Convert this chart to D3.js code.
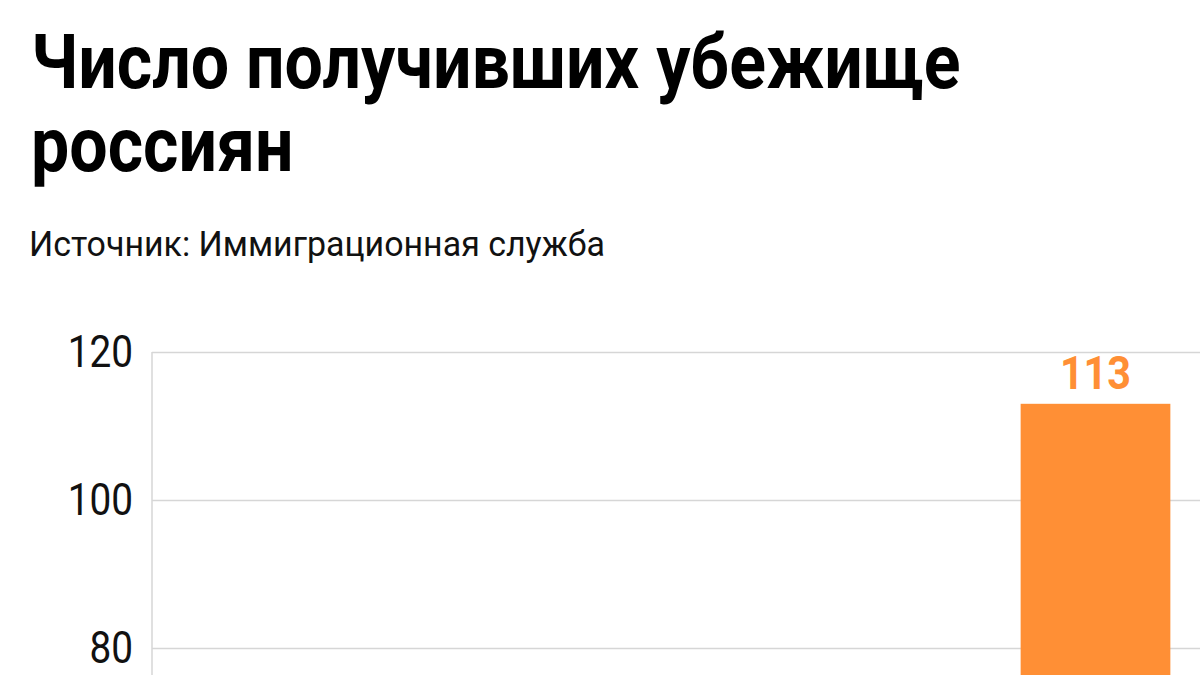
<!DOCTYPE html>
<html>
<head>
<meta charset="utf-8">
<script src="https://cdn.jsdelivr.net/npm/d3@7"></script>
<style>
  html, body { margin: 0; padding: 0; background: #fff; overflow: hidden; }
  svg { display: block; }
</style>
</head>
<body>
<svg id="chart"></svg>
<script>
// only the last bar is visible in the crop, the rest fall below 80
const categories = [""];
const values = [113];
const yTicks = [0, 20, 40, 60, 80, 100, 120];
const titleLines = ["Число получивших убежище", "россиян"];
const subtitle = "Источник: Иммиграционная служба";

const width = 1200;
const height = 675;
const plotLeft = 152;
const plotRight = 1200;
const plotTop = 352;
const plotBottom = 1240;
const barColor = "#ff8f35";

const svg = d3.select("#chart")
    .attr("width", width)
    .attr("height", height)
    .style("font-family", "Roboto, 'Noto Sans', sans-serif");

// squeeze text horizontally so Roboto looks like the condensed face
function condense(sel, k) {
    sel.each(function() {
        const t = d3.select(this);
        const x = +t.attr("x") || 0;
        t.attr("transform", `translate(${x * (1 - k)},0) scale(${k},1)`);
    });
}

// title
const title = svg.append("g");
titleLines.forEach((line, i) => {
    title.append("text")
        .attr("x", 31)
        .attr("y", 88 + i * 83)
        .style("font-size", "76px")
        .style("font-weight", 700)
        .style("fill", "#000")
        .text(line);
});
condense(title.selectAll("text"), 0.895);

svg.append("text")
    .attr("x", 29)
    .attr("y", 256)
    .style("font-size", "35px")
    .style("font-weight", 400)
    .style("fill", "#111")
    .text(subtitle)
    .call(condense, 0.97);

const x = d3.scaleBand()
    .domain(categories)
    .range([plotLeft, plotRight])
    .paddingInner(0)
    .paddingOuter(3)
    .align(0.967);

const y = d3.scaleLinear()
    .domain([0, 120])
    .range([plotBottom, plotTop]);

// gridlines
const grid = svg.append("g")
    .attr("transform", `translate(${plotLeft},0)`)
    .call(d3.axisLeft(y).tickValues(yTicks).tickSize(-(plotRight - plotLeft)).tickFormat(""));
grid.select(".domain").remove();
grid.selectAll("line")
    .attr("stroke", "#d6d6d6")
    .attr("stroke-width", 1.5);

svg.append("line")
    .attr("x1", plotLeft)
    .attr("x2", plotLeft)
    .attr("y1", y(d3.max(yTicks)))
    .attr("y2", y(0))
    .attr("stroke", "#d6d6d6")
    .attr("stroke-width", 1.5);

// y axis labels, only the ones that fall inside the frame
const yAxis = svg.append("g")
    .attr("transform", `translate(${plotLeft},0)`)
    .call(d3.axisLeft(y).tickValues(yTicks.filter(v => y(v) < height)).tickSize(0).tickPadding(19));
yAxis.select(".domain").remove();
yAxis.selectAll("text")
    .style("font-size", "44px")
    .style("font-family", "Roboto, sans-serif")
    .style("font-weight", 400)
    .style("fill", "#111")
    .call(condense, 0.88);

// bars
svg.selectAll(".bar")
    .data(values)
    .enter()
    .append("rect")
    .attr("class", "bar")
    .attr("x", (d, i) => x(categories[i]))
    .attr("y", d => y(d))
    .attr("width", x.bandwidth())
    .attr("height", d => y(0) - y(d))
    .attr("fill", barColor);

svg.selectAll(".value")
    .data(values)
    .enter()
    .append("text")
    .attr("class", "value")
    .attr("x", (d, i) => x(categories[i]) + x.bandwidth() / 2)
    .attr("y", d => y(d) - 15)
    .attr("text-anchor", "middle")
    .style("font-size", "47px")
    .style("font-weight", 700)
    .style("fill", barColor)
    .text(d => d)
    .call(condense, 0.88);
</script>
</body>
</html>
